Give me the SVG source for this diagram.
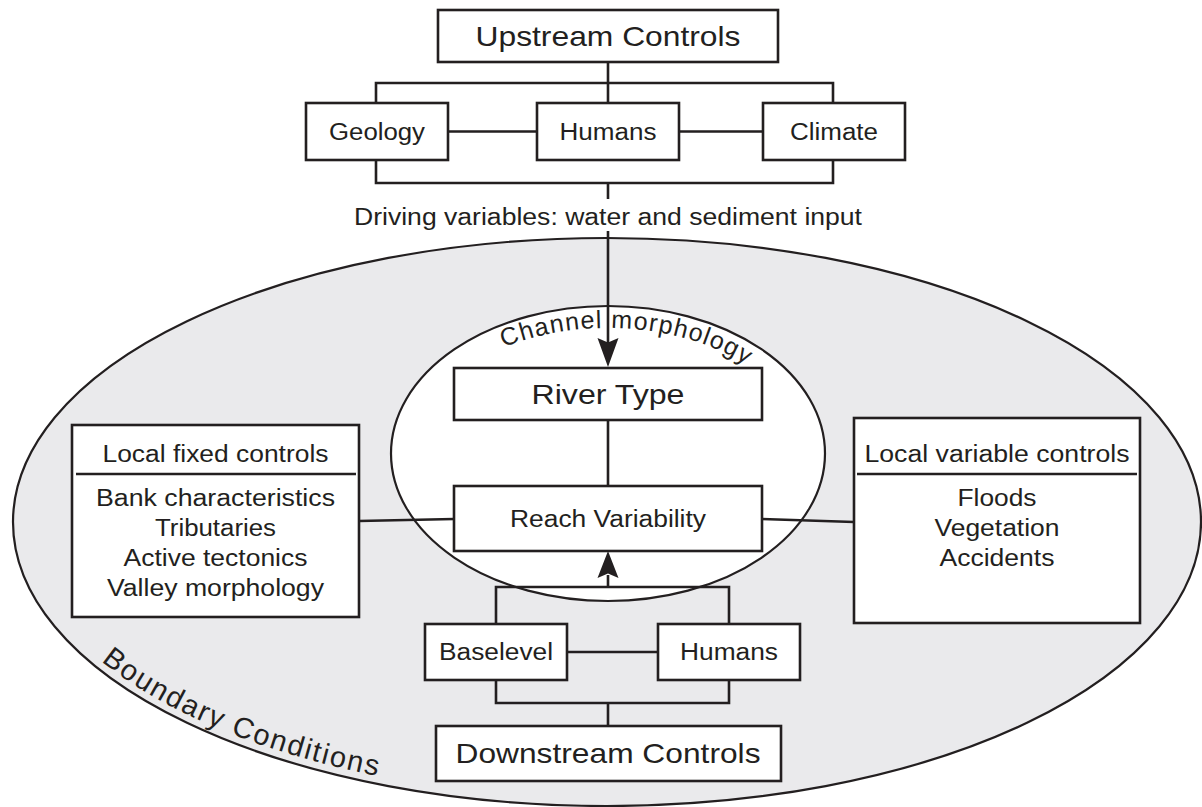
<svg xmlns="http://www.w3.org/2000/svg" width="1202" height="807" viewBox="0 0 1202 807">
<defs>
<style>
.bx{fill:#fff;stroke:#231f20;stroke-width:2.6}
.ln{fill:none;stroke:#231f20;stroke-width:2.6}
.el{stroke:#231f20;stroke-width:2.2}
.t{font-family:"Liberation Sans",Arial,Helvetica,sans-serif;fill:#231f20;text-anchor:middle}
.s{font-size:23.3px}
.b{font-size:28px}
.ah{fill:#231f20}
</style>
<path id="cmPath" d="M413,453.5 A195,125.5 0 0 1 803,453.5"/>
<path id="bcPath" d="M21,522 A586,276 0 0 0 607,798"/>
</defs>
<rect width="1202" height="807" fill="#fff"/>
<g id="boundary">
<ellipse class="el" cx="607" cy="522" rx="594" ry="284" fill="#eaeaec"/>
<text class="t" font-size="29" letter-spacing="1.8"><textPath href="#bcPath" startOffset="318">Boundary Conditions</textPath></text>
</g>
<g id="channel">
<ellipse class="el" cx="608" cy="453.5" rx="217" ry="147.5" fill="#fff"/>
<text class="t" font-size="25" letter-spacing="1.2"><textPath href="#cmPath" startOffset="274">Channel morphology</textPath></text>
</g>
<g id="connectors">
<path class="ln" d="M608,62 V103 M376,103 V83 H833 V103 M448,131.5 H537 M679,131.5 H763 M376,160 V183 H833 V160 M608,183 V199 M608,231 V343 M608,420 V486 M359,521 L454,519 M762,519 L854,522 M608,587 V575 M496,624 V587 H729 V624 M567,652 H658 M496,680 V703 H729 V680 M608,703 V726"/>
<polygon class="ah" points="608,367 597.5,338 608,342.5 618.5,338"/>
<polygon class="ah" points="608,551 597.5,578 608,573.5 618.5,578"/>
<text class="t s" x="608" y="225" textLength="508" lengthAdjust="spacingAndGlyphs">Driving variables: water and sediment input</text>
</g>
<g id="upstream"><rect class="bx" x="438" y="10" width="340" height="52"/><text class="t b" x="608" y="46" textLength="265" lengthAdjust="spacingAndGlyphs">Upstream Controls</text></g>
<g id="geology"><rect class="bx" x="306" y="103" width="142" height="57"/><text class="t s" x="377" y="140" textLength="96" lengthAdjust="spacingAndGlyphs">Geology</text></g>
<g id="humans-up"><rect class="bx" x="537" y="103" width="142" height="57"/><text class="t s" x="608" y="140" textLength="97" lengthAdjust="spacingAndGlyphs">Humans</text></g>
<g id="climate"><rect class="bx" x="763" y="103" width="142" height="57"/><text class="t s" x="834" y="140" textLength="88" lengthAdjust="spacingAndGlyphs">Climate</text></g>
<g id="river-type"><rect class="bx" x="454" y="368" width="308" height="52"/><text class="t b" x="608" y="404" textLength="153" lengthAdjust="spacingAndGlyphs">River Type</text></g>
<g id="reach"><rect class="bx" x="454" y="486" width="308" height="65"/><text class="t s" x="608" y="527" textLength="196" lengthAdjust="spacingAndGlyphs">Reach Variability</text></g>
<g id="local-fixed">
<rect class="bx" x="72" y="425" width="287" height="192"/>
<path class="ln" d="M76,474 H356"/>
<text class="t s" x="215.5" y="462" textLength="226" lengthAdjust="spacingAndGlyphs">Local fixed controls</text>
<text class="t s" x="215.5" y="506" textLength="239" lengthAdjust="spacingAndGlyphs">Bank characteristics</text>
<text class="t s" x="215.5" y="536" textLength="121" lengthAdjust="spacingAndGlyphs">Tributaries</text>
<text class="t s" x="215.5" y="566" textLength="184" lengthAdjust="spacingAndGlyphs">Active tectonics</text>
<text class="t s" x="215.5" y="596" textLength="217" lengthAdjust="spacingAndGlyphs">Valley morphology</text>
</g>
<g id="local-variable">
<rect class="bx" x="854" y="418" width="286" height="205"/>
<path class="ln" d="M857,474 H1137"/>
<text class="t s" x="997" y="462" textLength="265" lengthAdjust="spacingAndGlyphs">Local variable controls</text>
<text class="t s" x="997" y="506" textLength="79" lengthAdjust="spacingAndGlyphs">Floods</text>
<text class="t s" x="997" y="536" textLength="125" lengthAdjust="spacingAndGlyphs">Vegetation</text>
<text class="t s" x="997" y="566" textLength="115" lengthAdjust="spacingAndGlyphs">Accidents</text>
</g>
<g id="baselevel"><rect class="bx" x="425" y="624" width="142" height="56"/><text class="t s" x="496" y="660" textLength="114" lengthAdjust="spacingAndGlyphs">Baselevel</text></g>
<g id="humans-down"><rect class="bx" x="658" y="624" width="142" height="56"/><text class="t s" x="729" y="660" textLength="98" lengthAdjust="spacingAndGlyphs">Humans</text></g>
<g id="downstream"><rect class="bx" x="436" y="726" width="345" height="55"/><text class="t b" x="608" y="763" textLength="305" lengthAdjust="spacingAndGlyphs">Downstream Controls</text></g>
</svg>
